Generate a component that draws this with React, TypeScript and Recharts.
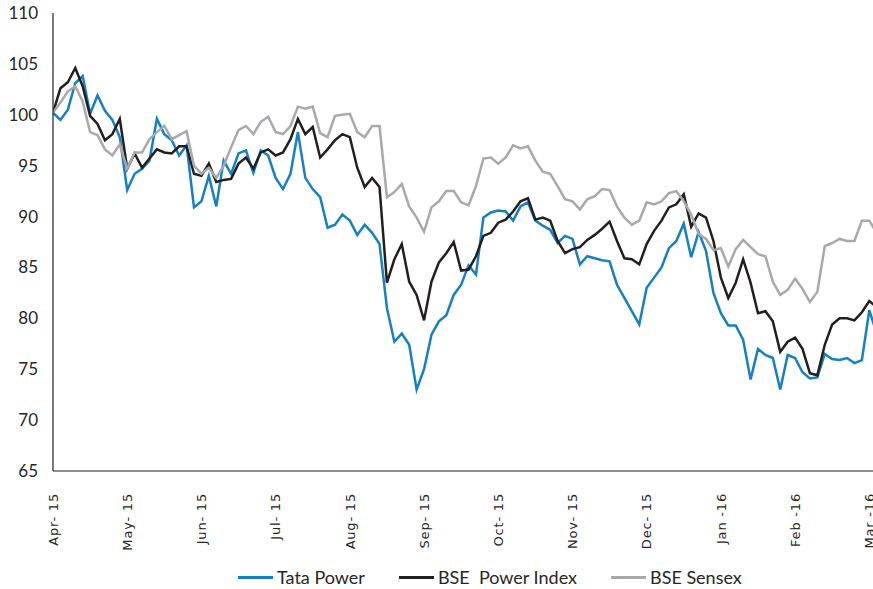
import { LineChart, Line, XAxis, YAxis, Legend } from 'recharts';

// rebased to 100 on 1 Apr 2015, ~10 readings per month
const monthLabels = [
  'Apr- 15', 'May- 15', 'Jun- 15', 'Jul- 15', 'Aug- 15', 'Sep- 15',
  'Oct- 15', 'Nov- 15', 'Dec- 15', 'Jan -16', 'Feb -16', 'Mar -16',
];

const tataPower = [
  100.2, 99.5, 100.5, 103.1, 103.8, 100.1, 101.9, 100.4, 99.5, 97.8,
  92.6, 94.2, 94.7, 95.5, 99.6, 98.1, 97.5, 96.0, 97.0, 90.9,
  91.5, 94.0, 91.0, 95.5, 94.2, 96.2, 96.5, 94.3, 96.5, 96.0,
  93.8, 92.7, 94.2, 98.3, 93.8, 92.7, 91.9, 88.9, 89.2, 90.2,
  89.6, 88.2, 89.2, 88.4, 87.3, 81.0, 77.7, 78.5, 77.4, 73.0,
  75.0, 78.4, 79.7, 80.3, 82.3, 83.3, 85.2, 84.3, 89.9, 90.4,
  90.6, 90.5, 89.6, 91.0, 91.4, 89.6, 89.1, 88.7, 87.4, 88.1,
  87.8, 85.3, 86.1, 85.9, 85.7, 85.6, 83.3, 82.0, 80.7, 79.4,
  83.0, 84.0, 85.0, 86.9, 87.6, 89.3, 86.0, 88.5, 86.6, 82.5,
  80.5, 79.3, 79.3, 77.9, 74.0, 77.0, 76.4, 76.1, 73.0, 76.4,
  76.1, 74.7, 74.1, 74.2, 76.5, 76.0, 75.9, 76.1, 75.6, 75.9,
  80.8, 78.5,
];

const bsePowerIndex = [
  100.2, 102.6, 103.2, 104.6, 102.8, 99.9, 99.1, 97.5, 98.1, 99.6,
  94.7, 96.2, 94.8, 95.7, 96.6, 96.3, 96.2, 96.9, 96.9, 94.2,
  94.0, 95.2, 93.4, 93.6, 93.7, 95.2, 95.8, 94.7, 96.3, 96.6,
  96.0, 96.3, 97.6, 99.6, 98.1, 98.8, 95.8, 96.6, 97.5, 98.1,
  97.8, 94.8, 92.9, 93.8, 92.9, 83.5, 85.8, 87.3, 83.6, 82.3,
  79.8, 83.6, 85.5, 86.4, 87.5, 84.7, 84.8, 86.1, 88.1, 88.4,
  89.4, 89.7, 90.5, 91.5, 91.8, 89.7, 89.9, 89.6, 87.6, 86.4,
  86.8, 87.0, 87.7, 88.2, 88.8, 89.5, 87.6, 85.9, 85.8, 85.3,
  87.3, 88.6, 89.6, 90.9, 91.2, 92.2, 89.0, 90.3, 89.9, 87.6,
  84.0, 82.0, 83.5, 85.8, 83.5, 80.5, 80.7, 79.7, 76.7, 77.7,
  78.1, 77.0, 74.6, 74.4, 77.4, 79.4, 80.0, 80.0, 79.8, 80.6,
  81.7, 81.1,
];

const bseSensex = [
  100.2, 101.2, 102.3, 102.8, 101.3, 98.3, 98.0, 96.6, 96.0, 97.1,
  94.7, 96.3, 96.3, 97.6, 98.3, 98.9, 97.6, 98.0, 98.4, 95.0,
  94.2, 94.8, 93.8, 95.0, 96.8, 98.5, 98.9, 98.1, 99.3, 99.8,
  98.3, 98.1, 98.9, 100.8, 100.6, 100.8, 98.2, 97.8, 99.9, 100.0,
  100.1, 98.3, 97.8, 98.9, 98.9, 91.9, 92.4, 93.2, 91.0, 89.9,
  88.5, 90.9, 91.5, 92.5, 92.5, 91.4, 91.1, 93.0, 95.7, 95.8,
  95.2, 95.8, 97.0, 96.7, 96.9, 95.5, 94.4, 94.2, 93.0, 91.7,
  91.5, 90.7, 91.7, 92.0, 92.7, 92.6, 91.0, 89.9, 89.2, 89.6,
  91.4, 91.2, 91.5, 92.3, 92.5, 91.5, 90.2, 88.3, 87.8, 86.7,
  86.9, 85.1, 86.8, 87.7, 87.0, 86.3, 86.1, 83.6, 82.3, 82.8,
  83.9, 82.9, 81.6, 82.6, 87.1, 87.4, 87.8, 87.6, 87.6, 89.6,
  89.6, 88.4,
];

const yTicks = [65, 70, 75, 80, 85, 90, 95, 100, 105, 110];

const TATA_COLOR = '#1581c4';
const POWER_COLOR = '#231f20';
const SENSEX_COLOR = '#a7a9ac';
const TEXT_COLOR = '#262626';

const data = tataPower.map((v, i) => ({
  i,
  tata: v,
  power: bsePowerIndex[i],
  sensex: bseSensex[i],
}));

const xTicks = monthLabels.map((_, k) => k * 10);

function MonthTick({ x, y, payload }: any) {
  return (
    <g transform={`translate(${x},${y})`}>
      <text
        transform="rotate(-90)"
        textAnchor="end"
        dy="0.36em"
        x={-14}
        y={0}
        fill={TEXT_COLOR}
        fontFamily="DejaVu Sans"
        fontSize={13}
        letterSpacing={0.8}
      >
        {monthLabels[Math.round(payload.value / 10)]}
      </text>
    </g>
  );
}

const legendItems = [
  { name: 'Tata Power', color: TATA_COLOR },
  { name: 'BSE  Power Index', color: POWER_COLOR },
  { name: 'BSE Sensex', color: SENSEX_COLOR },
];

function ChartLegend() {
  return (
    <div
      style={{
        display: 'flex',
        alignItems: 'center',
        height: 24,
        paddingLeft: 238,
        gap: 34,
        fontFamily: 'Lato',
        fontSize: 18,
        color: TEXT_COLOR,
        whiteSpace: 'pre',
      }}
    >
      {legendItems.map((it) => (
        <div key={it.name} style={{ display: 'flex', alignItems: 'center' }}>
          <span style={{ display: 'inline-block', width: 35, height: 3, background: it.color, marginRight: 4 }} />
          <span>{it.name}</span>
        </div>
      ))}
    </div>
  );
}

export default function App() {
  return (
    <div style={{ position: 'absolute', left: 0, top: 0, width: 873, height: 589, background: '#fff' }}>
      <LineChart width={873} height={589} data={data} margin={{ top: 13, right: 0, left: 0, bottom: 0 }}>
        <XAxis
          dataKey="i"
          type="number"
          domain={[0, 110.5]}
          allowDataOverflow
          ticks={xTicks}
          interval={0}
          tick={<MonthTick />}
          tickLine={false}
          axisLine={{ stroke: POWER_COLOR, strokeWidth: 1.2 }}
          height={94}
        />
        <YAxis
          type="number"
          domain={[65, 110]}
          ticks={yTicks}
          interval={0}
          width={53}
          tickLine={false}
          tickMargin={9}
          axisLine={{ stroke: POWER_COLOR, strokeWidth: 1.2 }}
          tick={{ fill: TEXT_COLOR, fontFamily: 'Lato', fontSize: 17 }}
        />
        <Legend verticalAlign="bottom" content={() => <ChartLegend />} wrapperStyle={{ left: 0, width: 873 }} />
        <Line dataKey="tata" name="Tata Power" stroke={TATA_COLOR} strokeWidth={2.5} dot={false} isAnimationActive={false} />
        <Line dataKey="power" name="BSE Power Index" stroke={POWER_COLOR} strokeWidth={2.5} dot={false} isAnimationActive={false} />
        <Line dataKey="sensex" name="BSE Sensex" stroke={SENSEX_COLOR} strokeWidth={2.5} dot={false} isAnimationActive={false} />
      </LineChart>
    </div>
  );
}
